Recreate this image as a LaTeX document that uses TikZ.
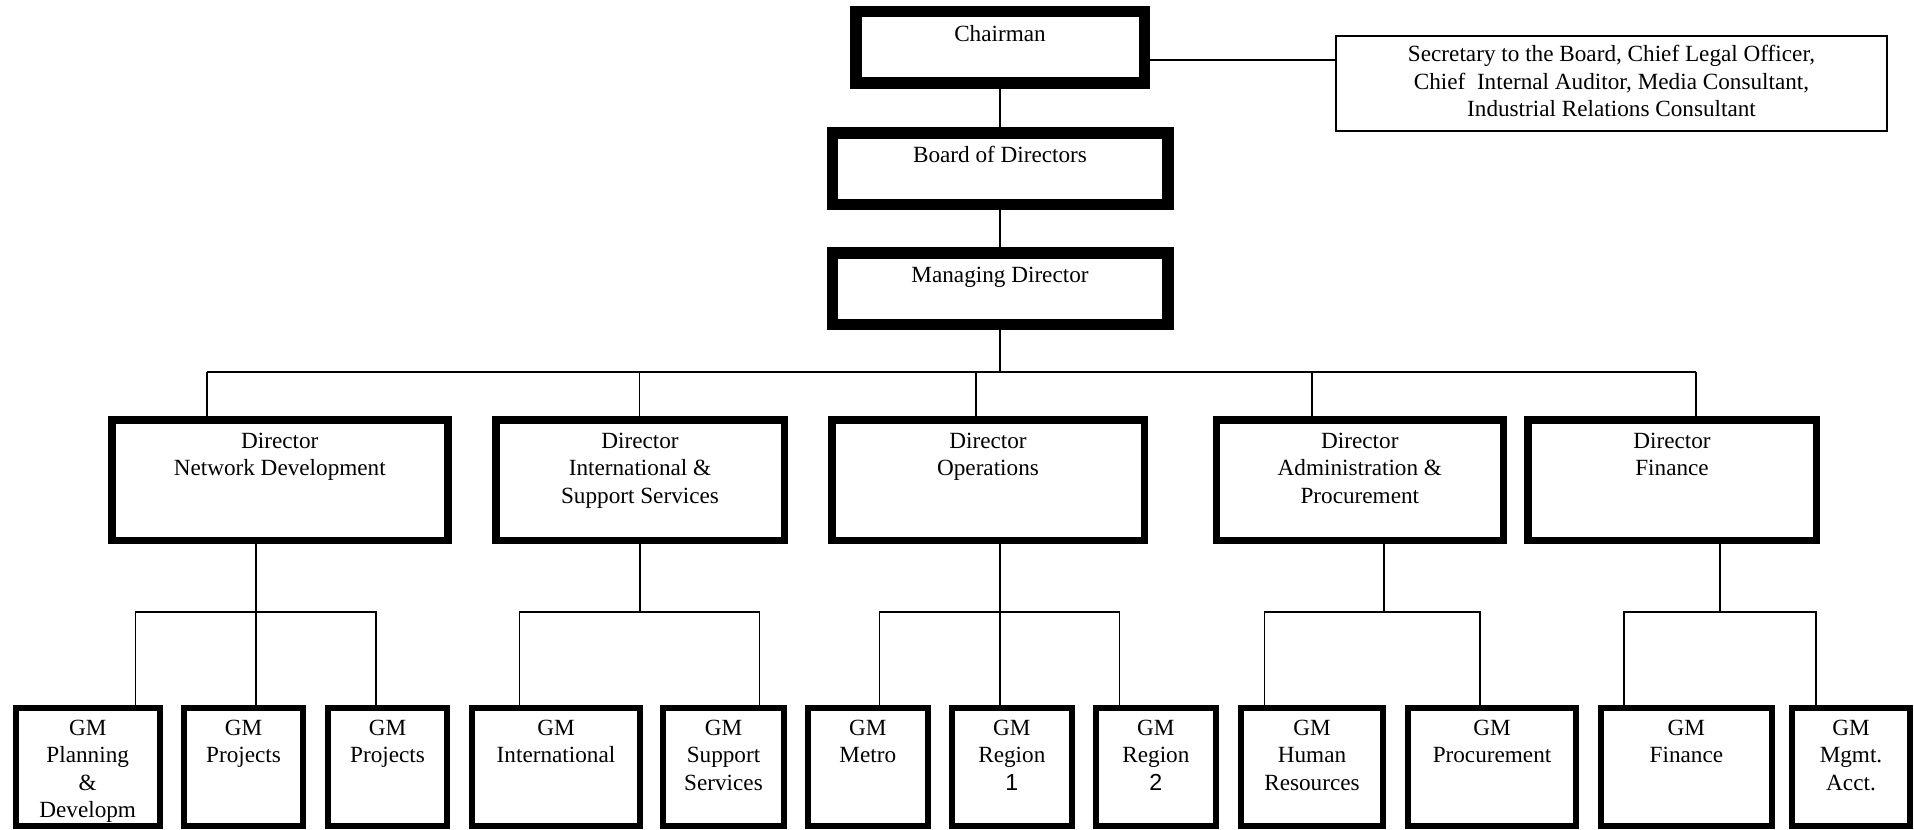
\documentclass[tikz,border=0pt]{standalone}
\usepackage{fontspec}
\setmainfont{Liberation Serif}
\newfontfamily\digitfont{Liberation Sans}
% centred lines stacked below the first baseline
\newcommand{\boxlines}[1]{\begin{tabular}[t]{@{}c@{}}#1\end{tabular}}
\begin{document}
\begin{tikzpicture}[x=0.5pt,y=-0.5pt,
  every node/.style={font=\fontsize{11.6}{13.8}\selectfont},
  orgbox/.style={draw=black, fill=white, rectangle, inner sep=0pt, outer sep=0pt},
  topbox/.style 2 args={orgbox, line width=5.75pt, minimum width=#1*0.5pt, minimum height=#2*0.5pt},
  dirbox/.style={orgbox, line width=3.75pt, minimum width=#1*0.5pt, minimum height=60.25pt},
  gmbox/.style={orgbox, line width=3pt, minimum width=#1*0.5pt, minimum height=59pt},
  secbox/.style 2 args={orgbox, line width=1pt, minimum width=#1*0.5pt, minimum height=#2*0.5pt},
  txt/.style={anchor=base, inner sep=0pt, yshift=-#1*0.5pt},
  link/.style={draw=black, line width=0.75pt},
  boldlink/.style={draw=black, line width=1.3pt},
]
\fill[white] (0,0) rectangle (1914,829);
\useasboundingbox (0,0) rectangle (1914,829);

% executive boxes
\node[topbox={288.5}{71.5}, label={[txt=30]north:{\boxlines{Chairman}}}] (ch) at (1000,47.5) {};
\node[topbox={335.5}{71.5}, label={[txt=29.5]north:{\boxlines{Board of Directors}}}] (bd) at (1000,168.5) {};
\node[topbox={335.5}{71.5}, label={[txt=29.5]north:{\boxlines{Managing Director}}}] (md) at (1000,288.5) {};
\node[secbox={551}{95}, label={[txt=25.7]north:{\boxlines{Secretary to the Board, Chief Legal Officer,\\Chief~~Internal Auditor, Media Consultant,\\Industrial Relations Consultant}}}] (sec) at (1611.5,83.5) {};

% directors
\node[dirbox=336, label={[txt=28.5]north:{\boxlines{Director\\Network Development}}}] (dnd) at (279.75,480) {};
\node[dirbox=288.5, label={[txt=28.5]north:{\boxlines{Director\\International \&\\Support Services}}}] (dis) at (640,480) {};
\node[dirbox=312.5, label={[txt=28.5]north:{\boxlines{Director\\Operations}}}] (dop) at (988,480) {};
\node[dirbox=287, label={[txt=28.5]north:{\boxlines{Director\\Administration \&\\Procurement}}}] (dad) at (1359.8,480) {};
\node[dirbox=288.5, label={[txt=28.5]north:{\boxlines{Director\\Finance}}}] (dfi) at (1672,480) {};

% general managers
\node[gmbox=144, label={[txt=27]north:{\boxlines{GM\\Planning\\\&\\Developm}}}] (g1) at (87.7,767) {};
\node[gmbox=119, label={[txt=27]north:{\boxlines{GM\\Projects}}}] (g2) at (243.5,767) {};
\node[gmbox=119, label={[txt=27]north:{\boxlines{GM\\Projects}}}] (g3) at (387.5,767) {};
\node[gmbox=168, label={[txt=27]north:{\boxlines{GM\\International}}}] (g4) at (556,767) {};
\node[gmbox=121, label={[txt=27]north:{\boxlines{GM\\Support\\Services}}}] (g5) at (723.5,767) {};
\node[gmbox=119.6, label={[txt=27]north:{\boxlines{GM\\Metro}}}] (g6) at (867.8,767) {};
\node[gmbox=119.7, label={[txt=27]north:{\boxlines{GM\\Region\\{\digitfont 1}}}}] (g7) at (1011.85,767) {};
\node[gmbox=119.8, label={[txt=27]north:{\boxlines{GM\\Region\\{\digitfont 2}}}}] (g8) at (1155.9,767) {};
\node[gmbox=142, label={[txt=27]north:{\boxlines{GM\\Human\\Resources}}}] (g9) at (1312,767) {};
\node[gmbox=168, label={[txt=27]north:{\boxlines{GM\\Procurement}}}] (g10) at (1492,767) {};
\node[gmbox=171.3, label={[txt=27]north:{\boxlines{GM\\Finance}}}] (g11) at (1686.35,767) {};
\node[gmbox=118, label={[txt=27]north:{\boxlines{GM\\Mgmt.\\Acct.}}}] (g12) at (1851,767) {};

% top chain
\draw[link] (ch.south) -- (bd.north);
\draw[link] (bd.south) -- (md.north);
\draw[link] (ch.east |- 0,60) -- (sec.west |- 0,60);

% main bus to the directors
\coordinate (busL) at (207,372);
\coordinate (busR) at (1696,372);
\draw[link] (md.south) -- (md.south |- busL);
\draw[link] (busL) -- (busR);
\draw[link] (busL) -- (dnd.north -| busL);
\draw[link] (639.5,372) -- (dis.north -| 639.5,0);
\draw[link] (976,372) -- (dop.north -| 976,0);
\draw[link] (1312,372) -- (dad.north -| 1312,0);
\draw[link] (busR) -- (dfi.north -| busR);

% Network Development
\draw[link] (dnd.south -| 256,0) -- (256,612);
\draw[link] (g1.north -| 135.7,0) -- (135.7,612) -- (376,612) -- (g3.north -| 376,0);
\draw[boldlink] (256,612) -- (g2.north -| 256,0);

% International & Support Services
\draw[link] (dis.south) -- (640,612);
\draw[link] (g4.north -| 519.6,0) -- (519.6,612) -- (759.6,612) -- (g5.north -| 759.6,0);

% Operations
\draw[link] (dop.south -| 1000,0) -- (1000,612);
\draw[link] (g6.north -| 879.6,0) -- (879.6,612) -- (1119.6,612) -- (g8.north -| 1119.6,0);
\draw[link] (1000,612) -- (g7.north -| 1000,0);

% Administration & Procurement
\draw[link] (dad.south -| 1384,0) -- (1384,612);
\draw[link] (g9.north -| 1264.5,0) -- (1264.5,612) -- (1480,612) -- (g10.north -| 1480,0);

% Finance
\draw[link] (dfi.south -| 1720,0) -- (1720,612);
\draw[link] (g11.north -| 1624,0) -- (1624,612) -- (1816,612) -- (g12.north -| 1816,0);
\end{tikzpicture}
\end{document}
